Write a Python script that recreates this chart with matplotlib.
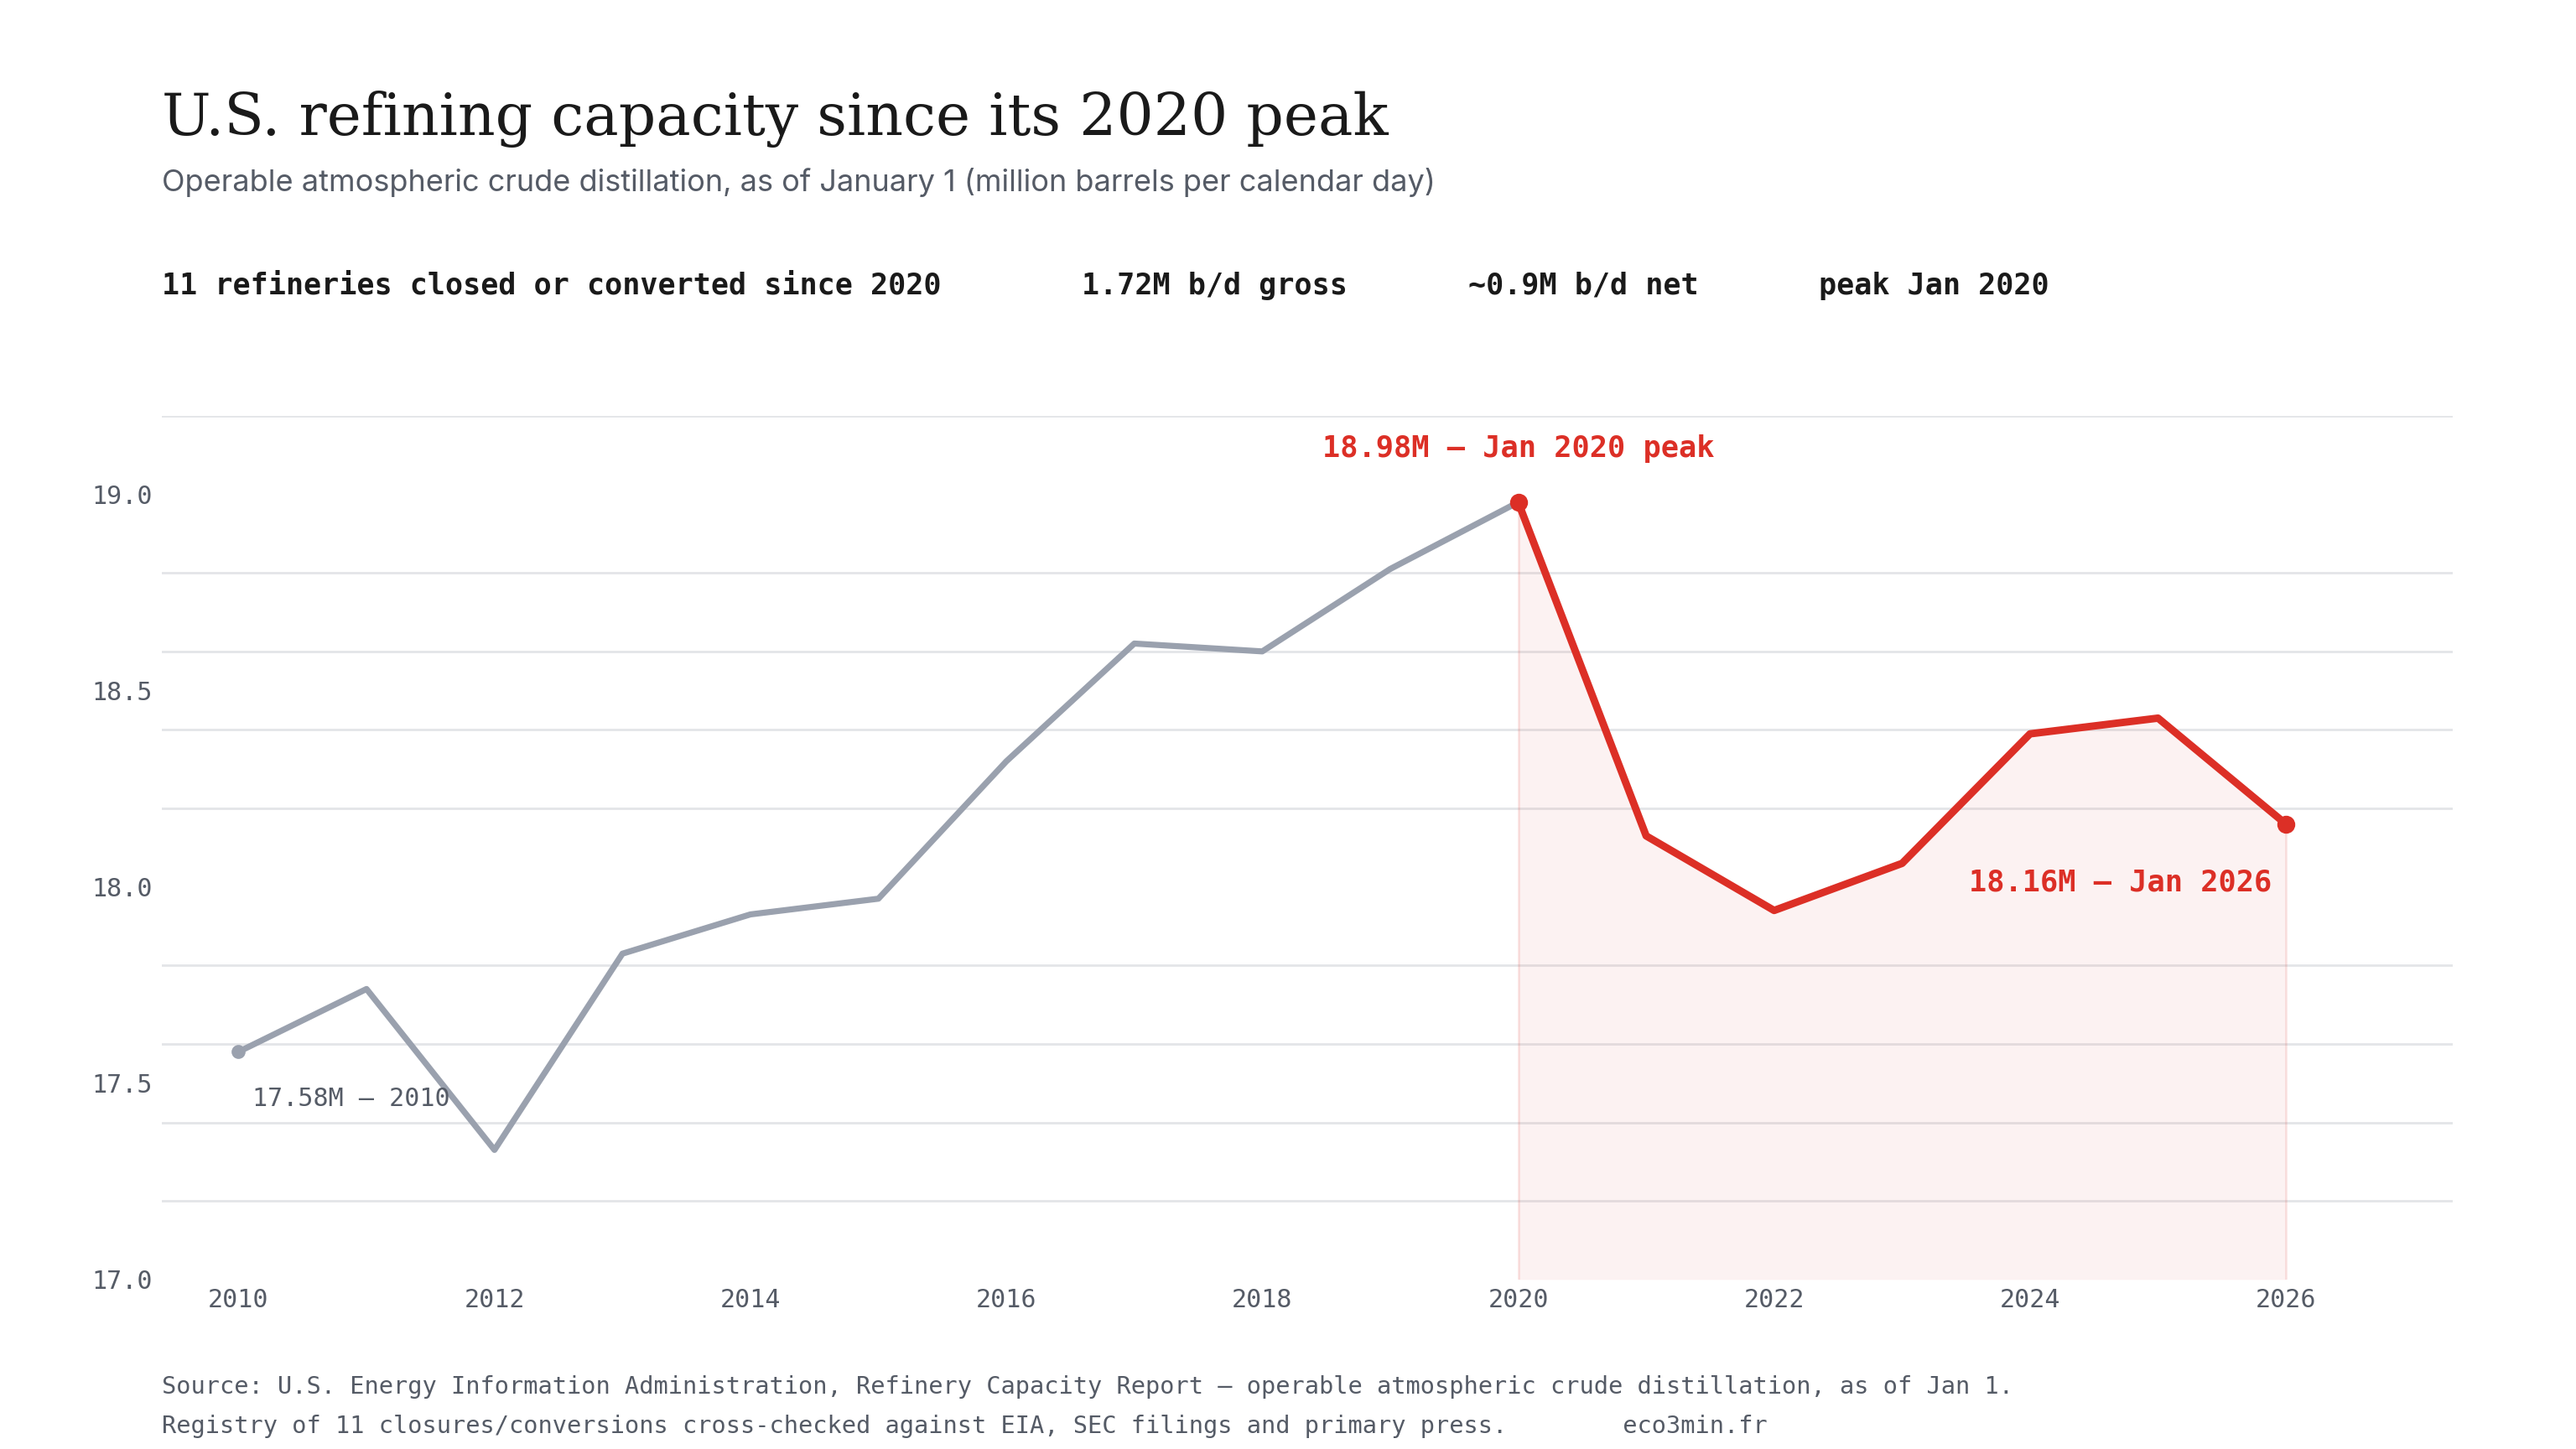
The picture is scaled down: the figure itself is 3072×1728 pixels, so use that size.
import matplotlib
matplotlib.use("Agg")
import matplotlib.pyplot as plt

years = list(range(2010, 2027))
capacity = [17.58, 17.74, 17.33, 17.83, 17.93, 17.97, 18.32, 18.62, 18.60, 18.81,
            18.98, 18.13, 17.94, 18.06, 18.39, 18.43, 18.16]
stats = ["11 refineries closed or converted since 2020", "1.72M b/d gross",
         "~0.9M b/d net", "peak Jan 2020"]
yticks = [17.0, 17.5, 18.0, 18.5, 19.0]
xticks = list(range(2010, 2027, 2))

GREY = "#9aa1ae"
RED = "#dc2f26"
MONO = ["DejaVu Sans Mono"]

fig = plt.figure(figsize=(15.36, 8.64), dpi=200)
ax = fig.add_axes([0.0628, 0.117, 0.8892, 0.596])

i20 = years.index(2020)
ax.plot(years[:i20 + 1], capacity[:i20 + 1], color=GREY, lw=2.6, solid_capstyle="round", zorder=3)
ax.plot(years[i20:], capacity[i20:], color=RED, lw=3.2, solid_capstyle="round", zorder=4)
ax.fill_between(years[i20:], 17.0, capacity[i20:], color=RED, alpha=0.06, lw=0)
ax.plot([years[i20], years[i20]], [17.0, capacity[i20]], color=RED, alpha=0.12, lw=1)
ax.plot([years[-1], years[-1]], [17.0, capacity[-1]], color=RED, alpha=0.12, lw=1)
ax.scatter([years[0]], [capacity[0]], color=GREY, s=25, zorder=5)
ax.scatter([years[i20], years[-1]], [capacity[i20], capacity[-1]], color=RED, s=45, zorder=5)

ax.annotate(f"{capacity[i20]:.2f}M — Jan 2020 peak", (years[i20], capacity[i20]),
            xytext=(0, 17), textcoords="offset points", ha="center", va="bottom",
            color=RED, fontsize=12.7, fontweight="bold", family=MONO)
ax.annotate(f"{capacity[-1]:.2f}M — Jan 2026", (years[-1], capacity[-1]),
            xytext=(-6, -19), textcoords="offset points", ha="right", va="top",
            color=RED, fontsize=12.7, fontweight="bold", family=MONO)
ax.annotate(f"{capacity[0]:.2f}M — 2010", (years[0], capacity[0]),
            xytext=(6, -15), textcoords="offset points", ha="left", va="top",
            color="#555b66", fontsize=10.8, family=MONO)

ax.set_xlim(2009.4, 2027.3)
ax.set_ylim(17.0, 19.2)
ax.set_yticks([17.0 + 0.2 * k for k in range(12)], minor=True)
ax.set_yticks(yticks)
ax.set_yticklabels([f"{v:.1f}" for v in yticks])
ax.set_xticks(xticks)
ax.grid(axis="y", which="minor", color="#e3e5e8", lw=1)
ax.grid(axis="y", which="major", visible=False)
ax.set_axisbelow(True)
for s in ax.spines.values():
    s.set_visible(False)
ax.tick_params(axis="both", which="both", length=0, labelsize=10.8, labelcolor="#555b66")
ax.tick_params(axis="y", pad=30)
for lab in ax.get_xticklabels() + ax.get_yticklabels():
    lab.set_family(MONO)
for lab in ax.get_yticklabels():
    lab.set_horizontalalignment("left")

fig.text(0.0628, 0.907, "U.S. refining capacity since its 2020 peak", fontsize=25,
         family=["DejaVu Serif"], color="#1a1a1a", va="baseline")
fig.text(0.0628, 0.868, "Operable atmospheric crude distillation, as of January 1 (million barrels per calendar day)",
         fontsize=13, family=["Inter", "DejaVu Sans"], color="#555b66", va="baseline")
xs = [0.0628, 0.420, 0.570, 0.706]
for x, s in zip(xs, stats):
    fig.text(x, 0.797, s, fontsize=12.6, fontweight="bold", family=MONO, color="#1a1a1a", va="baseline")
fig.text(0.0628, 0.038,
         "Source: U.S. Energy Information Administration, Refinery Capacity Report — operable atmospheric crude distillation, as of Jan 1.",
         fontsize=10.3, family=MONO, color="#555b66", va="baseline")
fig.text(0.0628, 0.011,
         "Registry of 11 closures/conversions cross-checked against EIA, SEC filings and primary press.        eco3min.fr",
         fontsize=10.3, family=MONO, color="#555b66", va="baseline")

fig.savefig("out.png", dpi=200, facecolor="white")
